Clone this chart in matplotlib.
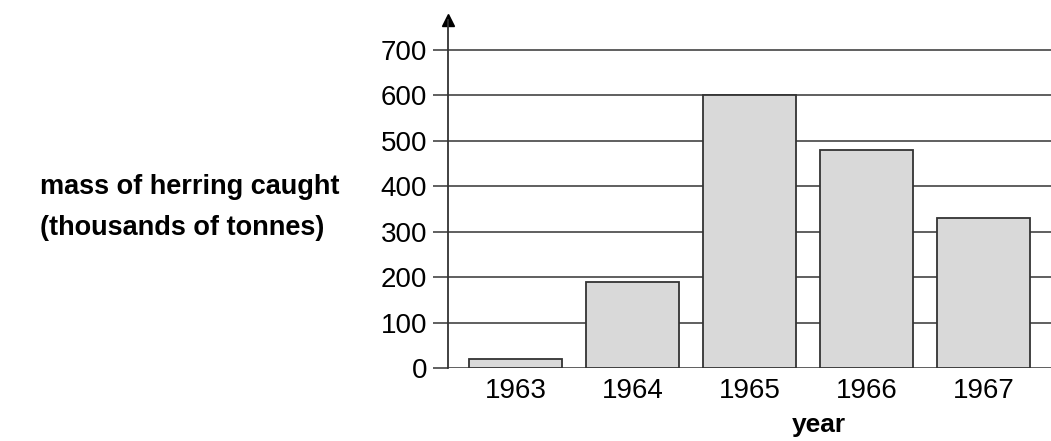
import matplotlib
matplotlib.use('Agg')
import matplotlib.pyplot as plt

plt.rcParams['font.family'] = ['Liberation Sans', 'DejaVu Sans']

# data
years = ['1963', '1964', '1965', '1966', '1967']
mass = [20, 190, 600, 480, 330]
yticks = [0, 100, 200, 300, 400, 500, 600, 700]

fig = plt.figure(figsize=(10.51, 4.41), dpi=100)
ax = fig.add_axes([448/1051, 73/441, 603/1051, 348/441])

ax.bar(range(len(years)), mass, width=0.795, color='#d9d9d9',
       edgecolor='#333333', linewidth=1.3, zorder=3)

ax.set_xlim(-0.577, 4.573)
ax.set_ylim(0, 766)
ax.set_yticks(yticks)
ax.set_xticks(range(len(years)))
ax.set_xticklabels(years)

ax.yaxis.grid(True, color='#444444', linewidth=1.2, zorder=1)
ax.set_axisbelow(True)
ax.tick_params(axis='y', length=11, width=1.2, color='#444444',
               labelsize=20, pad=4)
ax.tick_params(axis='x', length=0, labelsize=20, pad=7)

for s in ['top', 'right', 'bottom']:
    ax.spines[s].set_visible(False)
ax.spines['left'].set_color('#333333')
ax.spines['left'].set_linewidth(1.3)

# arrow head on y axis
ax.plot([0], [1.0], marker='^', color='black', markersize=8,
        transform=ax.transAxes, clip_on=False)

fig.text(819/1051, 1 - 425/441, 'year', fontsize=19, fontweight='bold',
         ha='center', va='center')

fig.text(40/1051, 1 - 187/441, 'mass of herring caught',
         fontsize=19.5, fontweight='bold', ha='left', va='center')
fig.text(40/1051, 1 - 228/441, '(thousands of tonnes)',
         fontsize=19.5, fontweight='bold', ha='left', va='center')

fig.savefig('out.png', dpi=100)
